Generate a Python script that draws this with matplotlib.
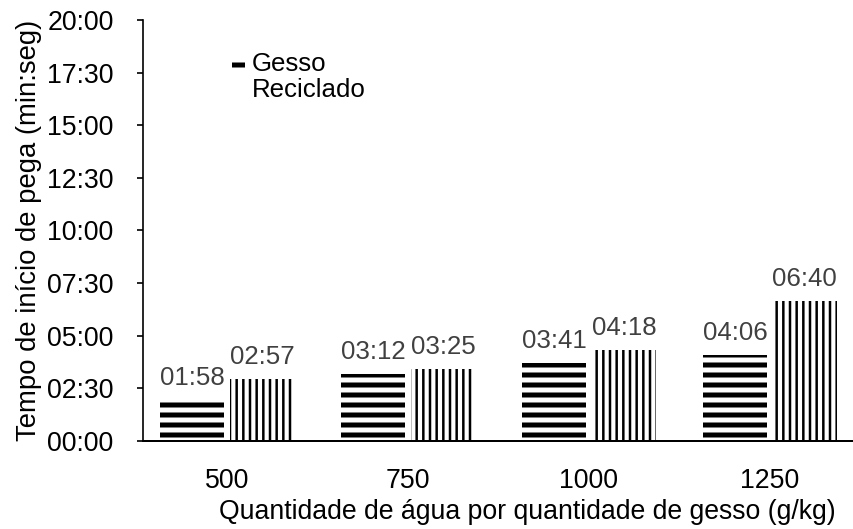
import numpy as np
import matplotlib.pyplot as plt
from matplotlib.ticker import FuncFormatter
from matplotlib.legend_handler import HandlerPatch
from matplotlib.patches import Rectangle

plt.rcParams['font.family'] = ['Liberation Sans', 'DejaVu Sans']

# tempos de início de pega (mm:ss) por quantidade de água
agua = ['500', '750', '1000', '1250']
tempo_hor = ['01:58', '03:12', '03:41', '04:06']
tempo_ver = ['02:57', '03:25', '04:18', '06:40']
legenda = 'Gesso\nReciclado'


def em_minutos(t):
    m, s = t.split(':')
    return int(m) + int(s) / 60.0


def mmss(v, pos=None):
    total = int(round(v * 60))
    return '%02d:%02d' % (total // 60, total % 60)


def faixa_legenda(legend, orig_handle, xdescent, ydescent, width, height, fontsize):
    # marca alinhada com a primeira linha do rótulo
    return Rectangle((-xdescent, -ydescent + 0.55 * fontsize), width, height)


y_hor = [em_minutos(t) for t in tempo_hor]
y_ver = [em_minutos(t) for t in tempo_ver]

W, H, DPI = 853, 529, 120
fig = plt.figure(figsize=(W / DPI, H / DPI), dpi=DPI)
ax = fig.add_axes([143 / W, 1 - 441 / H, 710 / W, 421 / H])

x = np.arange(len(agua))
larg = 0.354
desl = 0.193

b1 = ax.bar(x - desl, y_hor, larg, color='white', edgecolor='black',
            linewidth=0, hatch='--')
b2 = ax.bar(x + desl, y_ver, larg, color='white', edgecolor='black',
            linewidth=0, hatch='|||')
for p in b1:
    if hasattr(p, 'set_hatch_linewidth'):
        p.set_hatch_linewidth(3.0)
for p in b2:
    if hasattr(p, 'set_hatch_linewidth'):
        p.set_hatch_linewidth(1.5)

for xs, ys, txt in [(x - desl, y_hor, tempo_hor), (x + desl, y_ver, tempo_ver)]:
    for xi, yi, t in zip(xs, ys, txt):
        ax.annotate(t, (xi, yi), xytext=(0, 6), textcoords='offset points',
                    ha='center', va='bottom', fontsize=15.5, color='#404040')

ax.set_xlim(-0.464, 3.459)
ax.set_ylim(0, 20)
ax.set_yticks(np.arange(0, 20.1, 2.5))
ax.yaxis.set_major_formatter(FuncFormatter(mmss))
ax.set_xticks(x)
ax.set_xticklabels(agua)

ax.tick_params(axis='y', direction='out', length=3.6, width=1, labelsize=16, pad=14)
ax.tick_params(axis='x', length=0, labelsize=16, pad=16)
for lado in ['top', 'right']:
    ax.spines[lado].set_visible(False)
ax.spines['left'].set_linewidth(1)
ax.spines['bottom'].set_linewidth(1.2)

ax.set_xlabel('Quantidade de água por quantidade de gesso (g/kg)', fontsize=16)
ax.xaxis.set_label_coords(0.541, -0.138)
ax.set_ylabel('Tempo de início de pega (min:seg)', fontsize=16.5)
ax.yaxis.set_label_coords(-0.142, 0.5)

leg = ax.legend(handles=[b1.patches[0]], labels=[legenda],
                loc='upper left', bbox_to_anchor=(232 / W, 1 - 52 / H),
                bbox_transform=fig.transFigure, frameon=False, fontsize=15.5,
                handlelength=0.5, handleheight=0.22, handletextpad=0.25,
                borderpad=0, borderaxespad=0,
                handler_map={Rectangle: HandlerPatch(patch_func=faixa_legenda)})
for t in leg.get_texts():
    t.set_linespacing(1.1)
for h in leg.legend_handles:
    if hasattr(h, 'set_hatch_linewidth'):
        h.set_hatch_linewidth(3.0)

fig.savefig('out.png', dpi=DPI)
